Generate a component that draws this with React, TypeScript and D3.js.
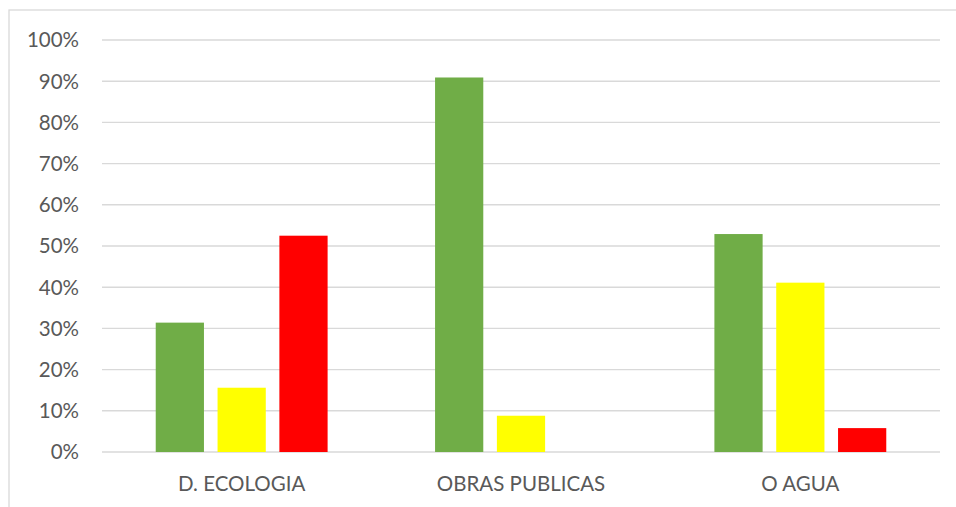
import React from "react";
import * as d3 from "d3";

const categories = ["D. ECOLOGIA", "OBRAS PUBLICAS", "O AGUA"];
const seriesNames = ["Verde", "Amarillo", "Rojo"];
const seriesColors = ["#70AD47", "#FFFF00", "#FF0000"];
const verde = [0.314, 0.909, 0.529];
const amarillo = [0.156, 0.088, 0.411];
const rojo = [0.525, 0, 0.058];
const yTicks = [0, 0.1, 0.2, 0.3, 0.4, 0.5, 0.6, 0.7, 0.8, 0.9, 1.0];

const W = 956;
const H = 507;
const left = 102;
const right = 940;
const top = 40;
const bottom = 452;

export default function App() {
  const series = [verde, amarillo, rojo];
  const x0 = d3.scaleBand<string>().domain(categories).range([left, right]).paddingInner(0.336).paddingOuter(0.168);
  const x1 = d3.scaleBand<string>().domain(seriesNames).range([0, x0.bandwidth()]).paddingInner(0.22).paddingOuter(0.11);
  const y = d3.scaleLinear().domain([0, 1]).range([bottom, top]);
  const fmt = d3.format(".0%");
  const font = "Lato, 'Liberation Sans', sans-serif";
  return (
    <svg width={W} height={H} style={{ position: "fixed", left: 0, top: 0, background: "#fff" }} fontFamily={font}>
      <rect x={9} y={10} width={W} height={H} fill="#fff" stroke="#d9d9d9" strokeWidth={1.3} />
      {yTicks.map((t) => (
        <g key={t}>
          <line x1={left} x2={right} y1={y(t)} y2={y(t)} stroke="#d9d9d9" strokeWidth={1.4} />
          <text x={79} y={y(t) + 7.3} textAnchor="end" fontSize={20.5} fill="#595959">{fmt(t)}</text>
        </g>
      ))}
      {categories.map((c, ci) => (
        <g key={c}>
          {series.map((s, si) => (
            s[ci] > 0 ? (
              <rect key={si} x={(x0(c) as number) + (x1(seriesNames[si]) as number)} y={y(s[ci])}
                width={x1.bandwidth()} height={y(0) - y(s[ci])} fill={seriesColors[si]} />
            ) : null
          ))}
          <text x={(x0(c) as number) + x0.bandwidth() / 2} y={491} textAnchor="middle" fontSize={20.5} fill="#595959">{c}</text>
        </g>
      ))}
    </svg>
  );
}
